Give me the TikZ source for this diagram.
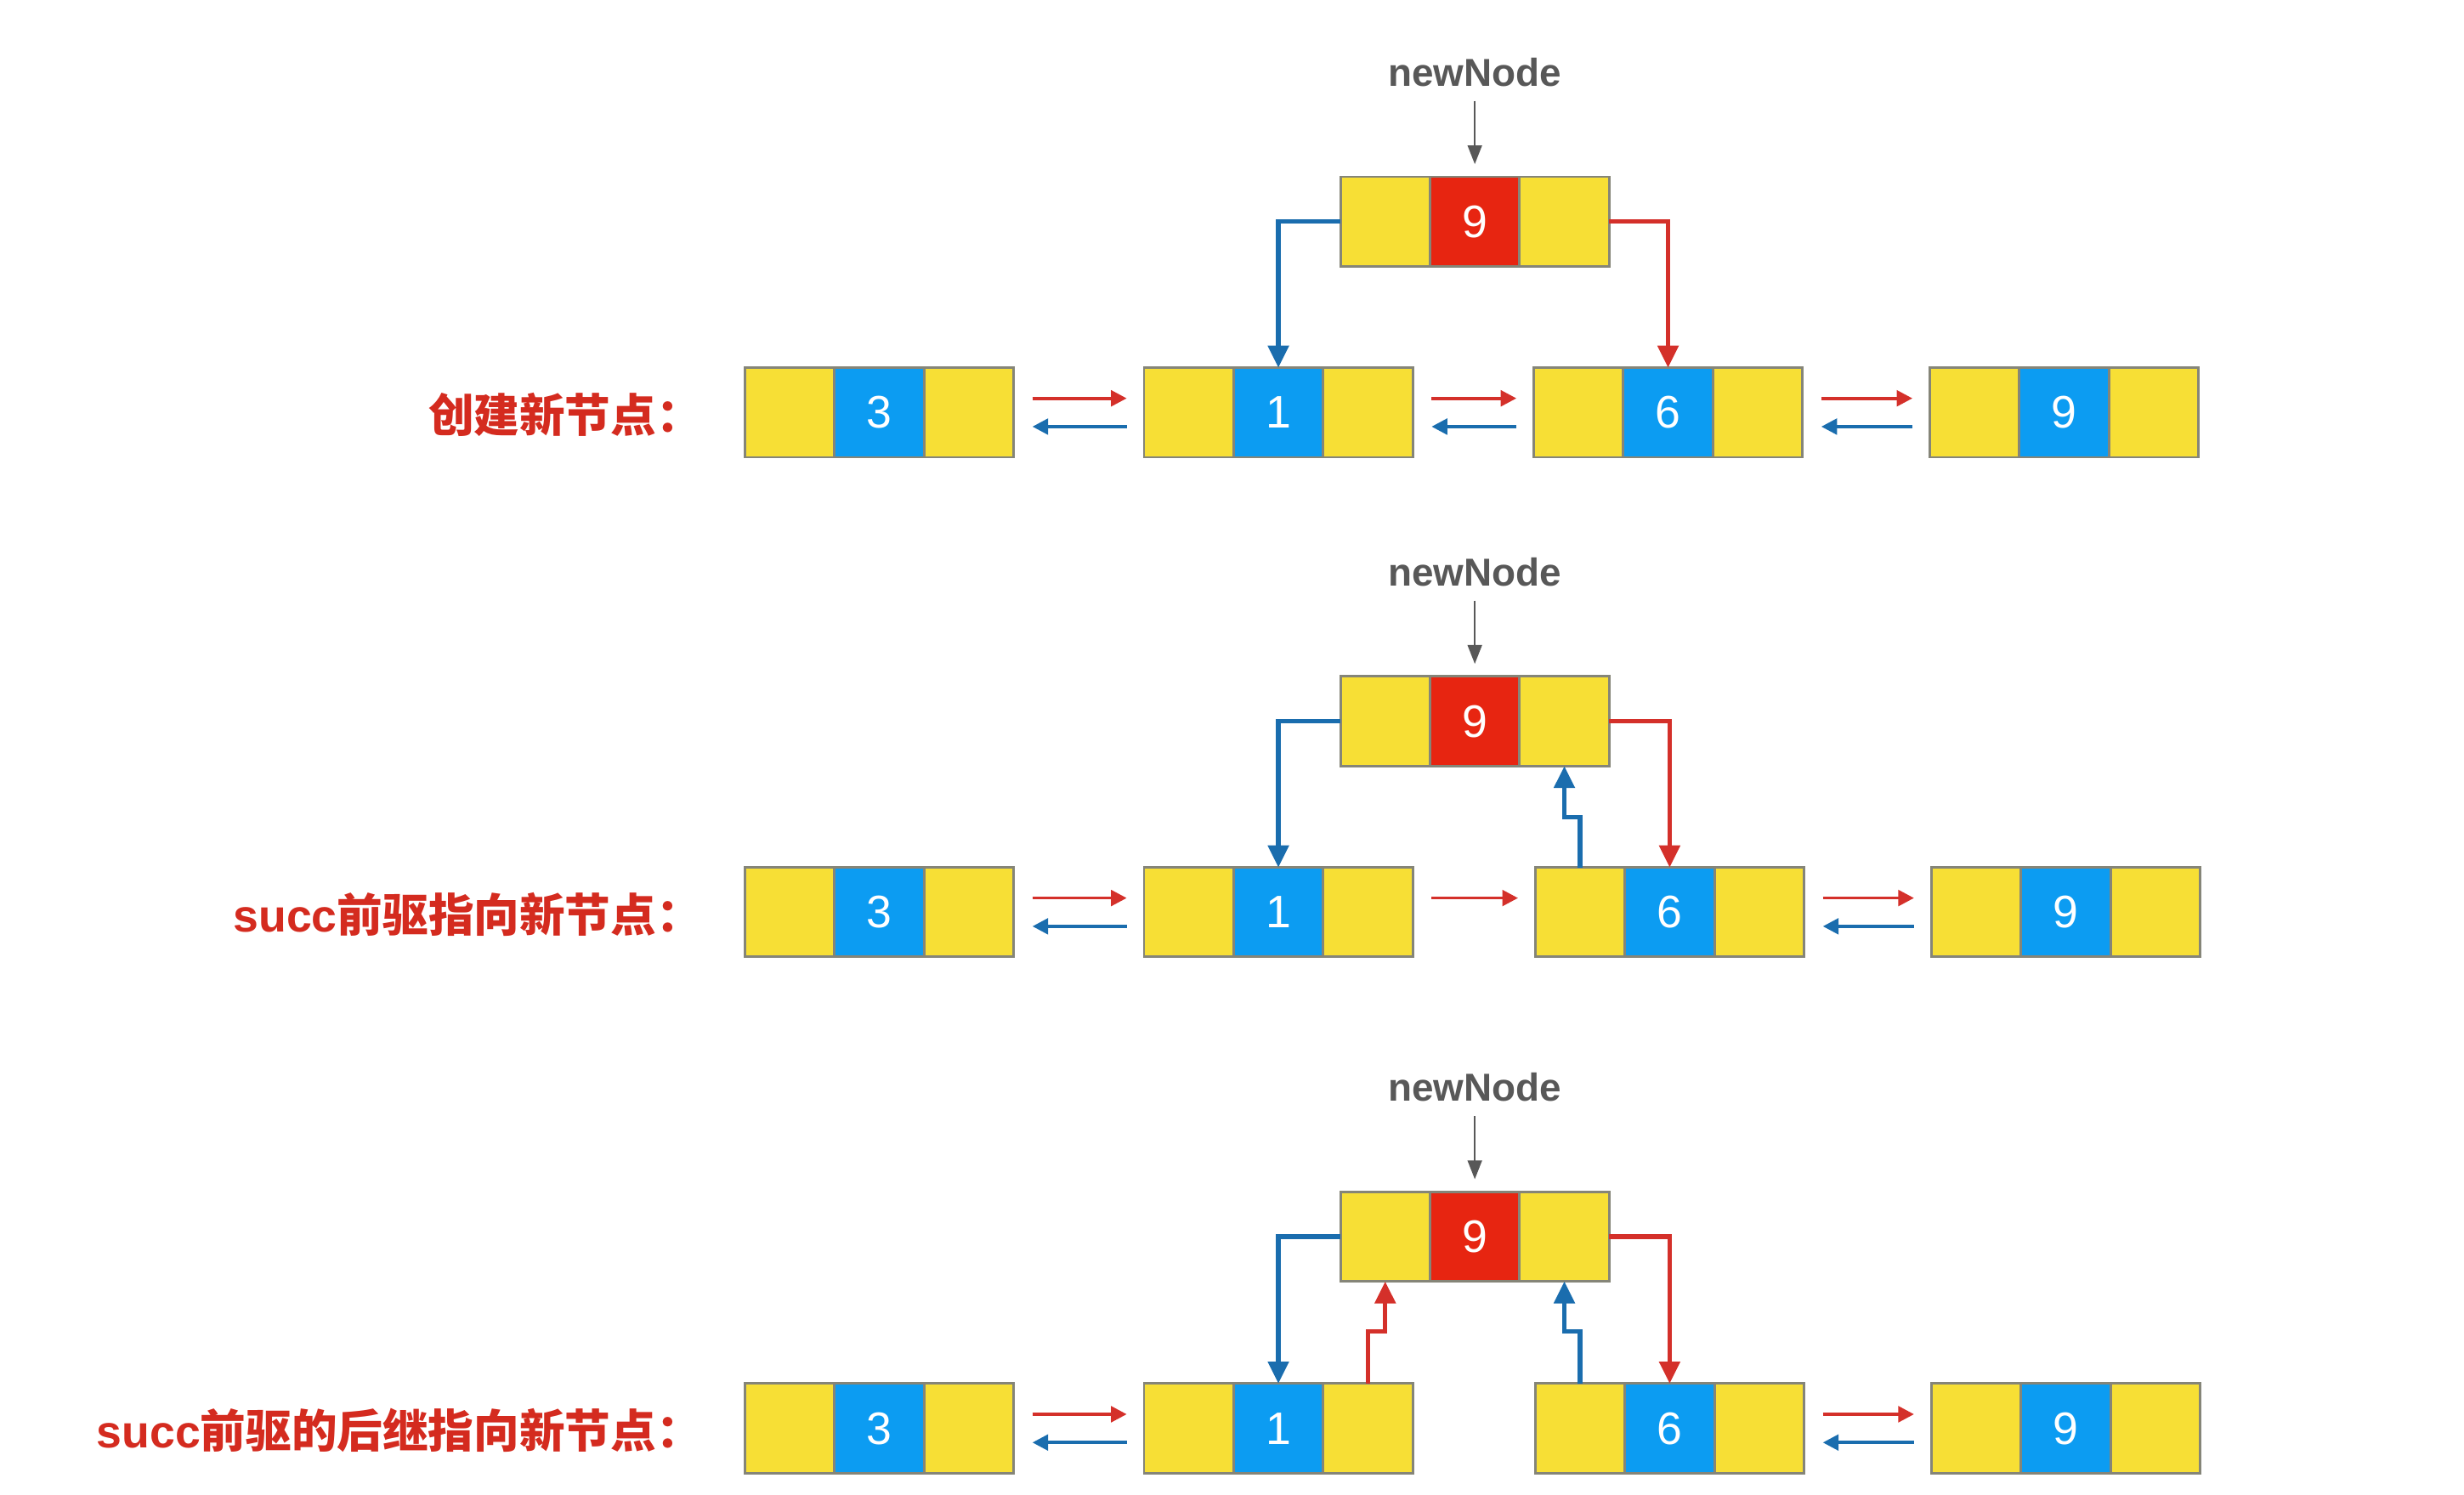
\documentclass[tikz,border=0pt]{standalone}
\usepackage{fontspec}
\setmainfont{Liberation Sans}
\newfontfamily\cjk{Noto Sans CJK SC}
\usetikzlibrary{arrows.meta,positioning,calc}
\definecolor{CY}{HTML}{F7DF35}
\definecolor{CB}{HTML}{0C9CF2}
\definecolor{CR}{HTML}{E72511}
\definecolor{CE}{HTML}{858578}
\definecolor{LR}{HTML}{D4302A}
\definecolor{LB}{HTML}{1A6DAE}
\definecolor{TG}{HTML}{585858}
\definecolor{LT}{HTML}{D42B1F}

\tikzset{
  cell/.style={draw=CE, line width=0.8pt, fill=CY,
    minimum width=28.5pt, minimum height=28.5pt,
    inner sep=0pt, outer sep=0pt,
    font=\fontsize{14.5}{14.5}\selectfont\color{white}},
  nextlink/.style={draw=LR, line width=1pt, -{Triangle[length=5pt,width=5pt]}},
  prevlink/.style={draw=LB, line width=1pt, -{Triangle[length=5pt,width=5pt]}},
  newlink/.style={line width=1.4pt, -{Triangle[length=7pt,width=6.5pt]}},
  ptr/.style={draw=TG, line width=0.7pt, -{Triangle[length=6pt,width=4.5pt]},
    shorten >=4pt, shorten <=1pt},
  ptrlabel/.style={font=\bfseries\fontsize{12.4}{14}\selectfont, text=TG},
  steplabel/.style={anchor=east, inner sep=0pt,
    font=\bfseries\fontsize{14.5}{16}\selectfont, text=LT}
}

% one list entry: name, left edge, centre y, value, value colour
\newcommand{\listbox}[5]{%
  \node[cell] (#1-l) at (#2+28.5,#3) {};
  \node[cell, fill=#5, right=0pt of #1-l] (#1-v) {#4};
  \node[cell, right=0pt of #1-v] (#1-r) {};
}
% next / prev pair between two entries
\newcommand{\twoway}[2]{%
  \draw[nextlink] ($(#1-r.east)+(12,-9)$) -- ($(#2-l.west)+(-11,-9)$);
  \draw[prevlink] ($(#2-l.west)+(-11,9)$) -- ($(#1-r.east)+(12,9)$);
}

\begin{document}
\begin{tikzpicture}[x=0.5pt,y=-0.5pt]
  \useasboundingbox (0,0) rectangle (1568,951);

  % step 1
  \node[steplabel] (S1) at (447,264) {\cjk 创建新节点：};
  \node[ptrlabel] (P1) at (938.5,46) {newNode};
  \listbox{N1}{853}{141}{9}{CR}
  \listbox{A1}{474}{262.5}{3}{CB}
  \listbox{B1}{728}{262.5}{1}{CB}
  \listbox{C1}{976}{262.5}{6}{CB}
  \listbox{D1}{1228}{262.5}{9}{CB}
  \draw[ptr] (P1) -- (N1-v);
  \twoway{A1}{B1}
  \twoway{B1}{C1}
  \twoway{C1}{D1}
  \draw[newlink, LB] (N1-l.west) -| (B1-v.north);
  \draw[newlink, LR] (N1-r.east) -| (C1-v.north);

  % step 2
  \node[steplabel] (S2) at (447,582) {succ{\cjk 前驱指向新节点：}};
  \node[ptrlabel] (P2) at (938.5,364) {newNode};
  \listbox{N2}{853}{459}{9}{CR}
  \listbox{A2}{474}{580.5}{3}{CB}
  \listbox{B2}{728}{580.5}{1}{CB}
  \listbox{C2}{977}{580.5}{6}{CB}
  \listbox{D2}{1229}{580.5}{9}{CB}
  \draw[ptr] (P2) -- (N2-v);
  \twoway{A2}{B2}
  \draw[nextlink] ($(B2-r.east)+(12,-9)$) -- ($(C2-l.west)+(-11,-9)$);
  \twoway{C2}{D2}
  \draw[newlink, LB] (N2-l.west) -| (B2-v.north);
  \draw[newlink, LR] (N2-r.east) -| (C2-v.north);
  \draw[newlink, LB] (C2-l.north) -- ++(0,-32) -| (N2-r.south);

  % step 3
  \node[steplabel] (S3) at (447,910) {succ{\cjk 前驱的后继指向新节点：}};
  \node[ptrlabel] (P3) at (938.5,692) {newNode};
  \listbox{N3}{853}{787}{9}{CR}
  \listbox{A3}{474}{909}{3}{CB}
  \listbox{B3}{728}{909}{1}{CB}
  \listbox{C3}{977}{909}{6}{CB}
  \listbox{D3}{1229}{909}{9}{CB}
  \draw[ptr] (P3) -- (N3-v);
  \twoway{A3}{B3}
  \twoway{C3}{D3}
  \draw[newlink, LB] (N3-l.west) -| (B3-v.north);
  \draw[newlink, LR] (N3-r.east) -| (C3-v.north);
  \draw[newlink, LR] (B3-r.north) -- ++(0,-33) -| (N3-l.south);
  \draw[newlink, LB] (C3-l.north) -- ++(0,-33) -| (N3-r.south);
\end{tikzpicture}
\end{document}
